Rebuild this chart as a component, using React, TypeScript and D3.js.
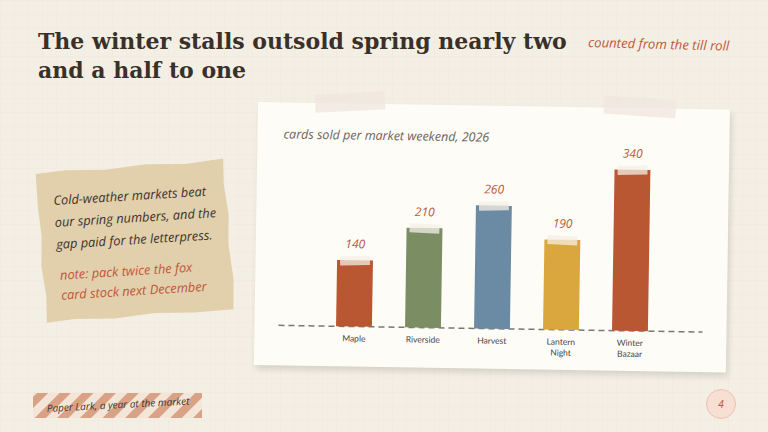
import React from "react";
import * as d3 from "d3";

const categories: string[][] = [["Maple"], ["Riverside"], ["Harvest"], ["Lantern", "Night"], ["Winter", "Bazaar"]];
const values: number[] = [140, 210, 260, 190, 340];
const barColors: string[] = ["#b95733", "#7a8d63", "#6b8aa4", "#daa73f", "#b95733"];
const titleLines: string[] = ["The winter stalls outsold spring nearly two", "and a half to one"];
const noteLines: string[] = ["Cold-weather markets beat", "our spring numbers, and the", "gap paid for the letterpress."];
const redNoteLines: string[] = ["note: pack twice the fox", "card stock next December"];

const HAND = "'Open Sans', sans-serif";

export default function App() {
  const W = 768, H = 432;
  const PW = 472, PH = 263;
  const x = d3.scaleBand<number>().domain(d3.range(values.length)).range([65, 410]).paddingInner(0.48).paddingOuter(0.24);
  const y = d3.scaleLinear().domain([0, 400]).range([223, 33.4]);

  return (
    <svg width={W} height={H} style={{ position: "absolute", left: 0, top: 0 }}>
      <defs>
        <pattern id="grid" width="14" height="14" patternUnits="userSpaceOnUse">
          <path d="M14 0 L0 0 0 14" fill="none" stroke="#ede7db" strokeWidth="0.8" />
        </pattern>
        <pattern id="stripes" width="16" height="16" patternUnits="userSpaceOnUse" patternTransform="rotate(45)">
          <rect width="16" height="16" fill="#f3e6d9" />
          <rect width="8" height="16" fill="#d9a286" />
        </pattern>
        <filter id="shadow" x="-10%" y="-10%" width="120%" height="130%">
          <feGaussianBlur stdDeviation="3" />
        </filter>
      </defs>
      <rect width={W} height={H} fill="#f4efe4" />
      <rect width={W} height={H} fill="url(#grid)" />

      {/* Title */}
      <g fontFamily="'DejaVu Serif', serif" fontWeight="bold" fontSize="22" fill="#3b3029">
        {titleLines.map((t, i) => (
          <text key={i} x={38} y={49 + i * 29}>{t}</text>
        ))}
      </g>
      <text x={588} y={47} fontFamily={HAND} fontStyle="italic" fontSize="13.2" fill="#c0563a" transform="rotate(1.5 588 47)">
        counted from the till roll
      </text>

      {/* Note card */}
      <g transform="rotate(-3.5 137 240)">
        <path
          d="M40 168 L70 166 L110 168 L150 165 L190 167 L228 164 L227 190 L230 220 L228 250 L231 285 L229 315 L190 316 L150 314 L110 317 L70 315 L42 317 L43 290 L40 260 L42 230 L40 200 Z"
          fill="#e2cfab"
        />
        <g fontFamily={HAND} fontStyle="italic" fontSize="12.8">
          {noteLines.map((t, i) => (
            <text key={i} x={56} y={200 + i * 22} fill="#3d332b">{t}</text>
          ))}
          {redNoteLines.map((t, i) => (
            <text key={"r" + i} x={58} y={275 + i * 20} fill="#c0563a">{t}</text>
          ))}
        </g>
      </g>

      {/* Paper */}
      <g transform="translate(258,102) rotate(0.9)">
        <rect x={2} y={4} width={PW} height={PH} fill="#000" opacity={0.12} filter="url(#shadow)" />
        <rect width={PW} height={PH} fill="#fefcf6" />
        <text x={26} y={36} fontFamily={HAND} fontStyle="italic" fontSize="12.5" fill="#6b625a">
          cards sold per market weekend, 2026
        </text>
        <line x1={24} x2={448} y1={y(0)} y2={y(0)} stroke="#777" strokeWidth={1.5} strokeDasharray="6 4" />
        {values.map((v, i) => {
          const bx = x(i)!;
          const bw = x.bandwidth();
          const top = y(v);
          return (
            <g key={i}>
              <rect x={bx} y={top} width={bw} height={y(0) - top} fill={barColors[i]} />
              <rect x={bx + 3} y={top - 4} width={bw - 6} height={9} fill="#f4efe6" opacity={0.75}
                transform={`rotate(${i % 2 ? 2 : -2} ${bx + bw / 2} ${top})`} />
              <text x={bx + bw / 2} y={top - 12} textAnchor="middle" fontFamily={HAND} fontStyle="italic" fontSize="12" fill="#bf5638">
                {v}
              </text>
              {categories[i].map((c, j) => (
                <text key={j} x={bx + bw / 2} y={238 + j * 11} textAnchor="middle" fontFamily="Lato, sans-serif" fontSize="8.5" fill="#4a423c">
                  {c}
                </text>
              ))}
            </g>
          );
        })}
      </g>
      {/* Tapes */}
      <rect x={315} y={93} width={70} height={18} fill="#f0e6df" opacity={0.75} transform="rotate(-3 350 102)" />
      <rect x={604} y={98} width={72} height={18} fill="#f0e6df" opacity={0.75} transform="rotate(4 640 107)" />

      {/* Footer tape */}
      <rect x={33} y={393} width={169} height={25} fill="url(#stripes)" />
      <text x={47} y={412} fontFamily={HAND} fontStyle="italic" fontSize="10" fill="#3d332b" transform="rotate(-3 47 412)">
        Paper Lark, a year at the market
      </text>

      {/* Page number */}
      <circle cx={721} cy={404} r={14.5} fill="#f7dfd4" stroke="#ecc1b1" strokeWidth={1} />
      <text x={721} y={408} textAnchor="middle" fontFamily={HAND} fontStyle="italic" fontSize="10" fill="#c0563a">4</text>
    </svg>
  );
}
